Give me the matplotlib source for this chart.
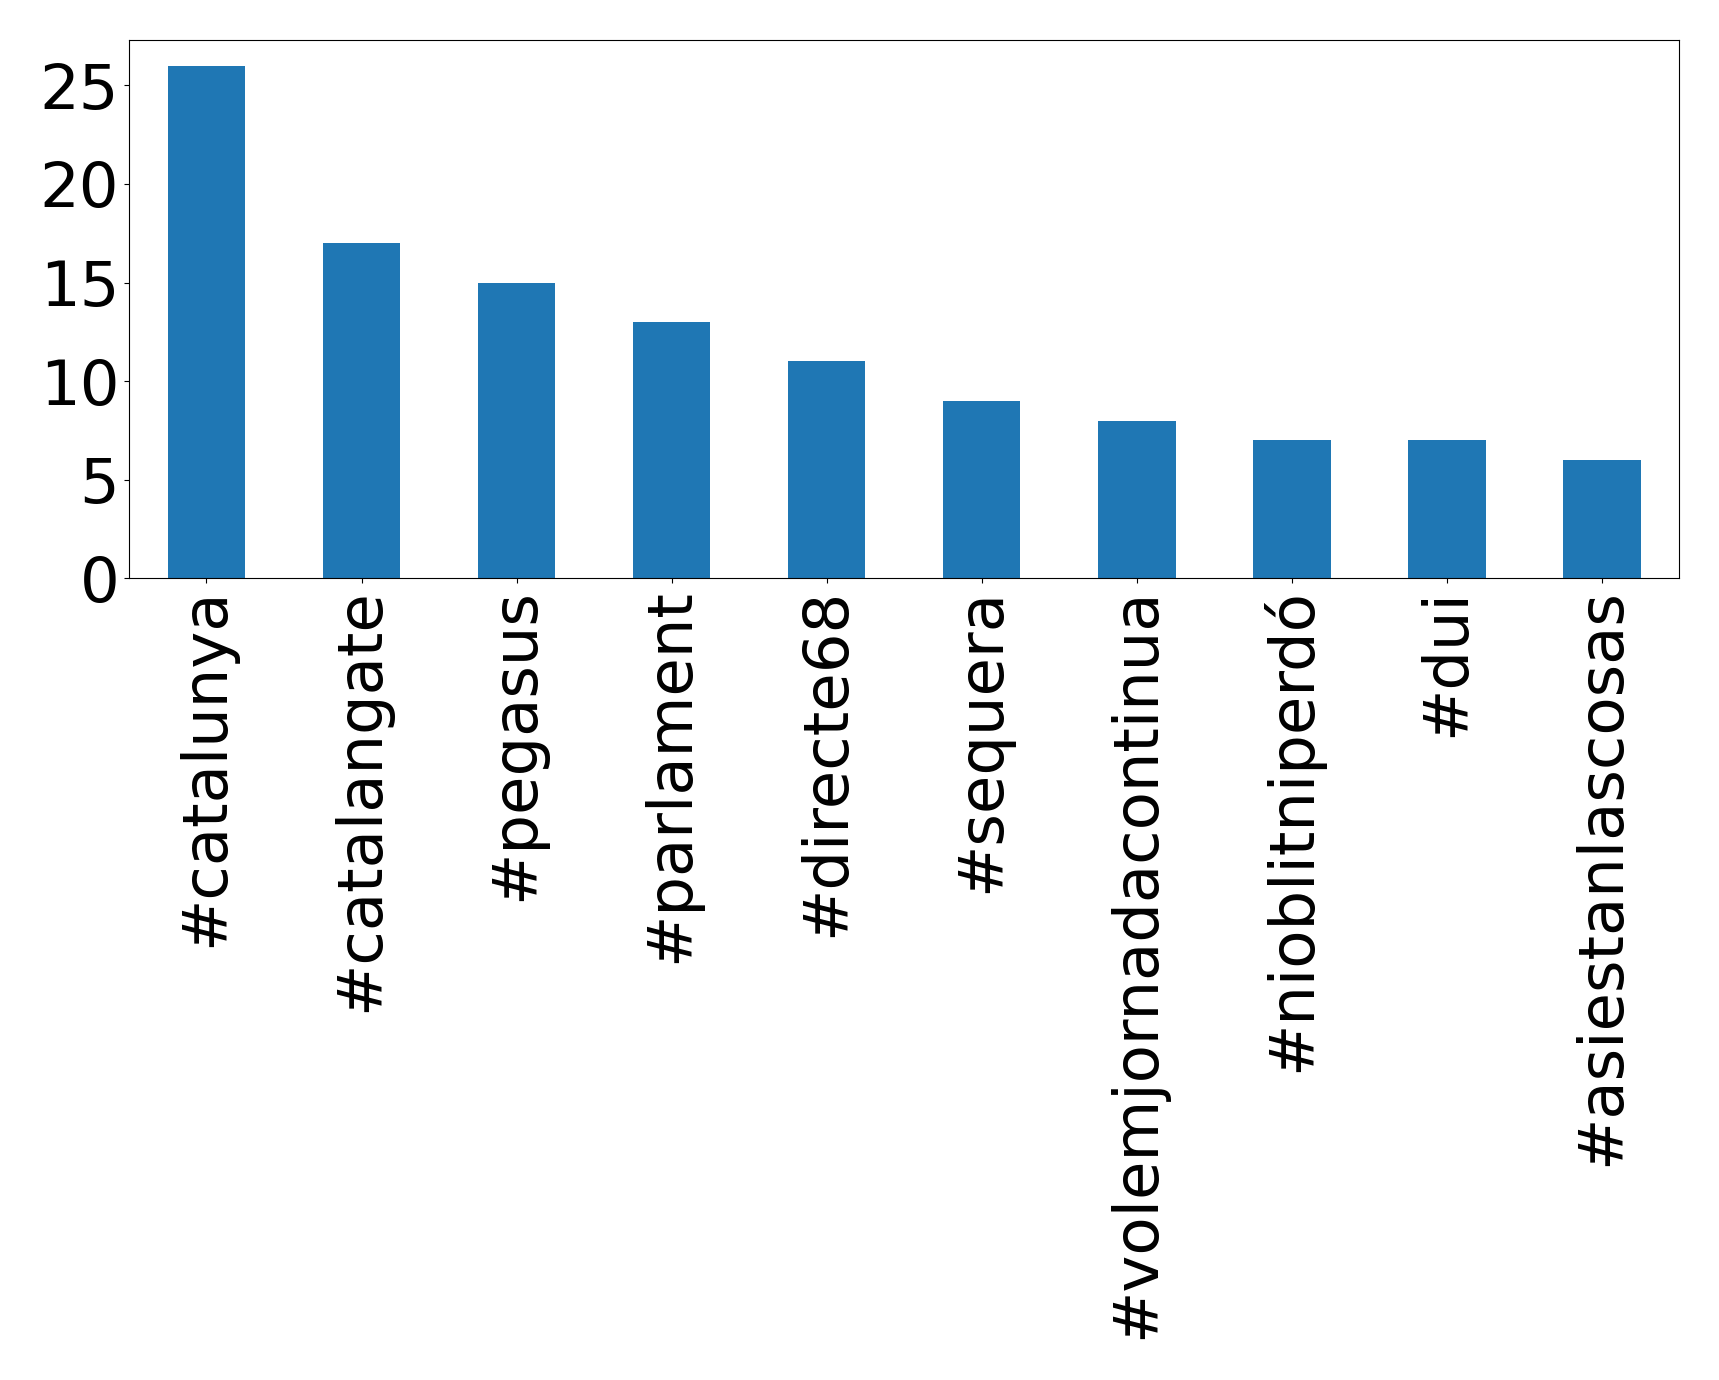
import pandas as pd
import matplotlib
matplotlib.use("Agg")
import matplotlib.pyplot as plt

hashtags = ["#catalunya", "#catalangate", "#pegasus", "#parlament", "#directe68",
            "#sequera", "#volemjornadacontinua", "#nioblitniperdó", "#dui", "#asiestanlascosas"]
counts = [26, 17, 15, 13, 11, 9, 8, 7, 7, 6]

s = pd.Series(counts, index=hashtags)

fig, ax = plt.subplots(figsize=(17.19, 13.80), dpi=100)
s.plot(kind="bar", ax=ax, color="#1f77b4", fontsize=45)
ax.set_yticks([0, 5, 10, 15, 20, 25])
plt.subplots_adjust(left=0.075, right=0.977, top=0.971, bottom=0.581)
plt.savefig("out.png", dpi=100)
plt.close()
